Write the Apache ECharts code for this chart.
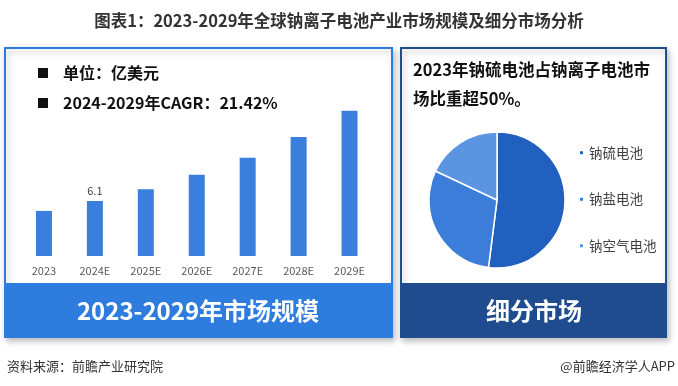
<!DOCTYPE html>
<html><head><meta charset="utf-8">
<script src="https://cdn.jsdelivr.net/npm/echarts@6/dist/echarts.min.js"></script>
<style>html,body{margin:0;padding:0;background:#fff}#c{width:678px;height:386px}</style>
</head><body><div id="c"></div>
<script>
const years = ['2023','2024E','2025E','2026E','2027E','2028E','2029E'];
const marketSize = [5.0, 6.1, 7.4, 9.0, 10.9, 13.2, 16.1];
const labeledYear = '2024E';
const segNames = ['钠硫电池','钠盐电池','钠空气电池'];
const segShares = [52, 30, 18];
const segColors = ['#2160BF','#3B7DD8','#5B95E2'];

const FONT = '"Noto Sans CJK SC", "Noto Sans", sans-serif';
const chart = echarts.init(document.getElementById('c'), null, {renderer:'canvas'});

const barData = marketSize.map((v,i)=> years[i]===labeledYear
  ? {value:v, label:{show:true, position:'top', distance:5, color:'#404040', fontSize:11, fontFamily:FONT, formatter:'{c}'}}
  : v);

chart.setOption({
  animation:false,
  backgroundColor:'#fff',
  title:{
    text:'图表1：2023-2029年全球钠离子电池产业市场规模及细分市场分析',
    left:'center', top:7,
    textStyle:{fontSize:16.5, fontWeight:'bold', color:'#333', fontFamily:FONT}
  },
  graphic:[
    // left panel
    {type:'rect', z:-10, shape:{x:5,y:48,width:387,height:289},
     style:{fill:'#fff', stroke:'#2F7CDF', lineWidth:2, shadowBlur:6, shadowOffsetX:2, shadowOffsetY:3, shadowColor:'rgba(0,0,0,0.25)'}},
    {type:'rect', z:-9, shape:{x:5,y:283,width:387,height:54}, style:{fill:'#2F7CDF'}},
    {type:'text', z:5, style:{x:198, y:311, text:'2023-2029年市场规模', fill:'#fff', font:'bold 24px '+FONT, textAlign:'center', textVerticalAlign:'middle'}},
    {type:'rect', z:5, shape:{x:38,y:68,width:10,height:10}, style:{fill:'#111'}},
    {type:'text', z:5, style:{x:63, y:73, text:'单位：亿美元', fill:'#111', font:'bold 16px '+FONT, textVerticalAlign:'middle'}},
    {type:'rect', z:5, shape:{x:38,y:98,width:10,height:10}, style:{fill:'#111'}},
    {type:'text', z:5, style:{x:63, y:103, text:'2024-2029年CAGR：21.42%', fill:'#111', font:'bold 16px '+FONT, textVerticalAlign:'middle'}},
    // right panel
    {type:'rect', z:-10, shape:{x:401,y:48,width:265,height:289},
     style:{fill:'#fff', stroke:'#1F4E8C', lineWidth:2, shadowBlur:6, shadowOffsetX:2, shadowOffsetY:3, shadowColor:'rgba(0,0,0,0.25)'}},
    {type:'rect', z:-9, shape:{x:401,y:283,width:265,height:54}, style:{fill:'#1E4C8E'}},
    {type:'text', z:5, style:{x:534, y:311, text:'细分市场', fill:'#fff', font:'bold 24px '+FONT, textAlign:'center', textVerticalAlign:'middle'}},
    {type:'text', z:5, style:{x:413, y:70, text:'2023年钠硫电池占钠离子电池市', fill:'#111', font:'bold 16.5px '+FONT, textVerticalAlign:'middle'}},
    {type:'text', z:5, style:{x:413, y:99, text:'场比重超50%。', fill:'#111', font:'bold 16.5px '+FONT, textVerticalAlign:'middle'}},
    // footer
    {type:'text', style:{x:7, y:366, text:'资料来源：前瞻产业研究院', fill:'#333', font:'13px '+FONT, textVerticalAlign:'middle'}},
    {type:'text', style:{x:675, y:366, text:'@前瞻经济学人APP', fill:'#333', font:'13px '+FONT, textAlign:'right', textVerticalAlign:'middle'}}
  ],
  grid:{left:18.5, width:356.5, top:75.6, height:180.4, containLabel:false},
  xAxis:{type:'category', data:years,
    axisLine:{show:false}, axisTick:{show:false},
    axisLabel:{color:'#595959', fontSize:11, margin:9, fontFamily:FONT}},
  yAxis:{type:'value', min:0, max:20, show:false, splitLine:{show:false}},
  legend:{
    orient:'vertical', left:573, top:141, itemGap:33, itemWidth:5, itemHeight:5, icon:'rect',
    data:segNames,
    textStyle:{fontSize:13.5, color:'#404040', fontFamily:FONT}
  },
  series:[
    {type:'bar', data:barData, barWidth:16, itemStyle:{color:'#3A7FDD'}},
    {type:'pie', center:[497,200], radius:[0,68], startAngle:90, clockwise:true,
     label:{show:false}, labelLine:{show:false},
     itemStyle:{borderColor:'#fff', borderWidth:1.5},
     data:segNames.map((n,i)=>({name:n, value:segShares[i], itemStyle:{color:segColors[i]}}))}
  ]
});
</script></body></html>
